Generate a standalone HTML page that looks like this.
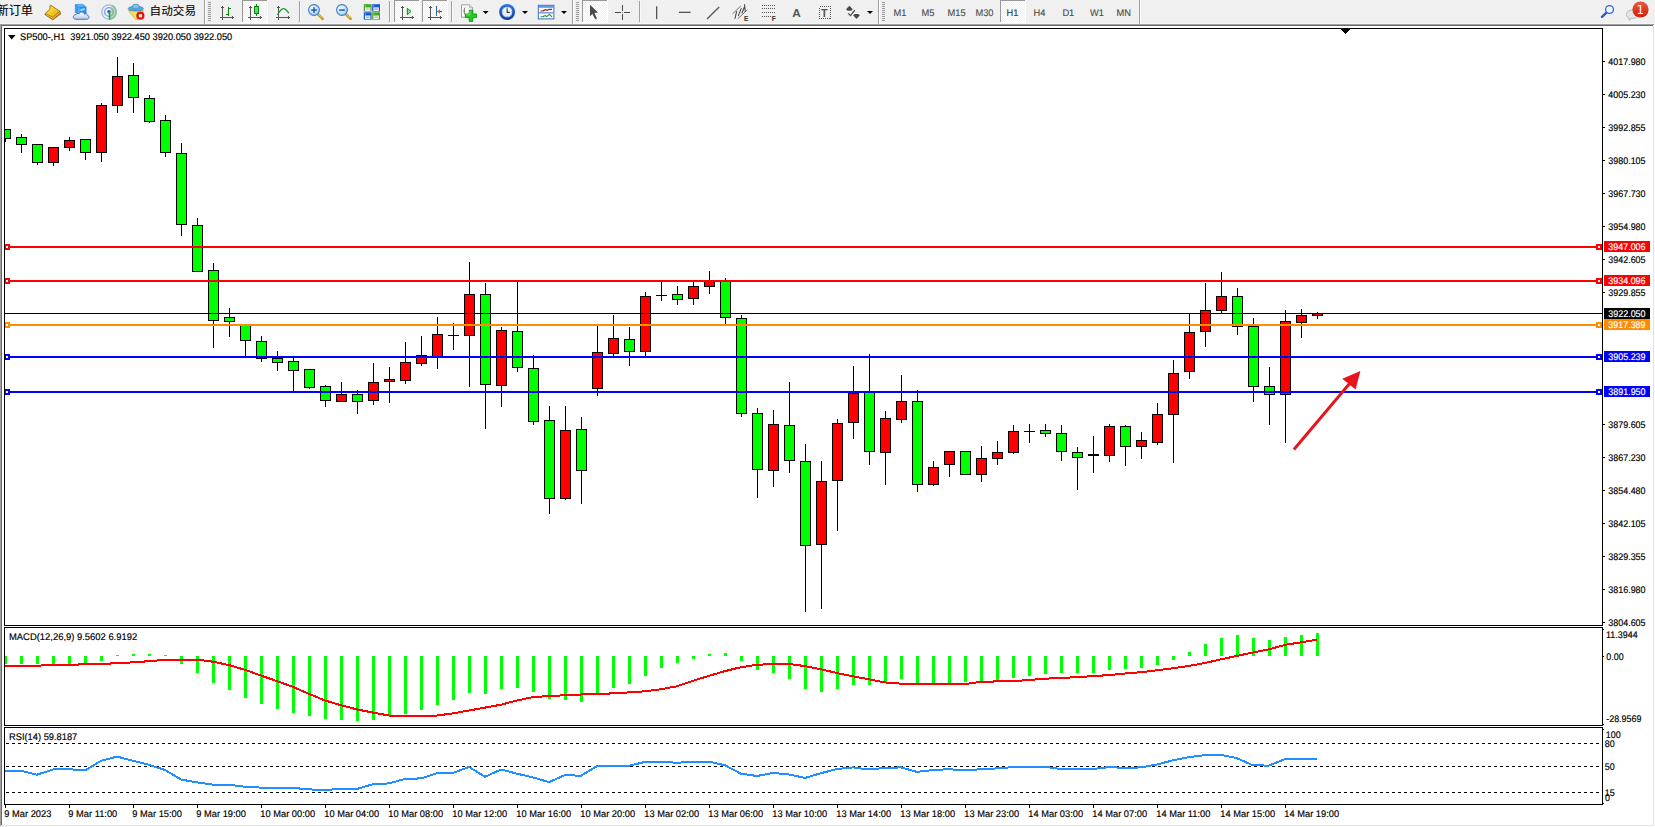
<!DOCTYPE html>
<html><head><meta charset="utf-8"><title>SP500-,H1</title>
<style>
html,body{margin:0;padding:0;background:#f0f0f0;overflow:hidden}
svg{display:block}
text{font-family:"Liberation Sans","Noto Sans CJK SC",sans-serif}
.ax{font-size:10px;fill:#000;text-rendering:geometricPrecision;stroke:#000;stroke-width:0.18px}
.tf{font-size:10px;fill:#4a4a4a;text-rendering:geometricPrecision;stroke:#4a4a4a;stroke-width:0.12px}
</style></head><body>
<svg width="1655" height="827" viewBox="0 0 1655 827">
<rect x="0" y="0" width="1655" height="827" fill="#ffffff"/>
<rect x="0" y="0" width="1655" height="24" fill="#f0f0f0"/>
<g shape-rendering="crispEdges">
<rect x="0" y="23" width="1654" height="1" fill="#f6f6f6"/>
<rect x="0" y="24" width="1654" height="1" fill="#a0a0a0"/>
<rect x="1" y="25" width="1652" height="1" fill="#696969"/>
<rect x="0" y="24" width="1" height="802" fill="#a0a0a0"/>
<rect x="1" y="25" width="1" height="800" fill="#696969"/>
<rect x="1653" y="26" width="1" height="800" fill="#e3e3e3"/>
<rect x="2" y="825" width="1652" height="1" fill="#e3e3e3"/>
</g>
<g shape-rendering="crispEdges">
<rect x="4" y="28" width="1599" height="1" fill="#000"/>
<rect x="4" y="625" width="1599" height="1" fill="#000"/>
<rect x="4" y="28" width="1" height="598" fill="#000"/>
<rect x="1602" y="28" width="1" height="598" fill="#000"/>
<rect x="4" y="627" width="1599" height="1" fill="#000"/>
<rect x="4" y="725" width="1599" height="1" fill="#000"/>
<rect x="4" y="627" width="1" height="99" fill="#000"/>
<rect x="1602" y="627" width="1" height="99" fill="#000"/>
<rect x="4" y="727" width="1599" height="1" fill="#000"/>
<rect x="4" y="804" width="1599" height="1" fill="#000"/>
<rect x="4" y="727" width="1" height="78" fill="#000"/>
<rect x="1602" y="727" width="1" height="78" fill="#000"/>
</g>
<defs><clipPath id="cp"><rect x="5" y="29" width="1597" height="596"/></clipPath><clipPath id="cp2"><rect x="5" y="628" width="1597" height="97"/></clipPath><clipPath id="cp3"><rect x="5" y="728" width="1597" height="76"/></clipPath></defs>
<g shape-rendering="crispEdges" clip-path="url(#cp)">
<rect x="5" y="129" width="1" height="13" fill="#000"/>
<rect x="0" y="129" width="11" height="10" fill="#000"/>
<rect x="1" y="130" width="9" height="8" fill="#00ff00"/>
<rect x="21" y="134" width="1" height="19" fill="#000"/>
<rect x="16" y="137" width="11" height="8" fill="#000"/>
<rect x="17" y="138" width="9" height="6" fill="#00ff00"/>
<rect x="37" y="144" width="1" height="21" fill="#000"/>
<rect x="32" y="144" width="11" height="19" fill="#000"/>
<rect x="33" y="145" width="9" height="17" fill="#00ff00"/>
<rect x="53" y="147" width="1" height="19" fill="#000"/>
<rect x="48" y="147" width="11" height="16" fill="#000"/>
<rect x="49" y="148" width="9" height="14" fill="#ff0000"/>
<rect x="69" y="137" width="1" height="14" fill="#000"/>
<rect x="64" y="140" width="11" height="8" fill="#000"/>
<rect x="65" y="141" width="9" height="6" fill="#ff0000"/>
<rect x="85" y="139" width="1" height="21" fill="#000"/>
<rect x="80" y="139" width="11" height="14" fill="#000"/>
<rect x="81" y="140" width="9" height="12" fill="#00ff00"/>
<rect x="101" y="103" width="1" height="59" fill="#000"/>
<rect x="96" y="105" width="11" height="48" fill="#000"/>
<rect x="97" y="106" width="9" height="46" fill="#ff0000"/>
<rect x="117" y="57" width="1" height="56" fill="#000"/>
<rect x="112" y="76" width="11" height="30" fill="#000"/>
<rect x="113" y="77" width="9" height="28" fill="#ff0000"/>
<rect x="133" y="63" width="1" height="50" fill="#000"/>
<rect x="128" y="75" width="11" height="23" fill="#000"/>
<rect x="129" y="76" width="9" height="21" fill="#00ff00"/>
<rect x="149" y="95" width="1" height="28" fill="#000"/>
<rect x="144" y="98" width="11" height="24" fill="#000"/>
<rect x="145" y="99" width="9" height="22" fill="#00ff00"/>
<rect x="165" y="115" width="1" height="42" fill="#000"/>
<rect x="160" y="120" width="11" height="33" fill="#000"/>
<rect x="161" y="121" width="9" height="31" fill="#00ff00"/>
<rect x="181" y="143" width="1" height="93" fill="#000"/>
<rect x="176" y="153" width="11" height="72" fill="#000"/>
<rect x="177" y="154" width="9" height="70" fill="#00ff00"/>
<rect x="197" y="218" width="1" height="54" fill="#000"/>
<rect x="192" y="225" width="11" height="47" fill="#000"/>
<rect x="193" y="226" width="9" height="45" fill="#00ff00"/>
<rect x="213" y="263" width="1" height="85" fill="#000"/>
<rect x="208" y="270" width="11" height="51" fill="#000"/>
<rect x="209" y="271" width="9" height="49" fill="#00ff00"/>
<rect x="229" y="308" width="1" height="29" fill="#000"/>
<rect x="224" y="317" width="11" height="5" fill="#000"/>
<rect x="225" y="318" width="9" height="3" fill="#00ff00"/>
<rect x="245" y="324" width="1" height="33" fill="#000"/>
<rect x="240" y="324" width="11" height="17" fill="#000"/>
<rect x="241" y="325" width="9" height="15" fill="#00ff00"/>
<rect x="261" y="336" width="1" height="26" fill="#000"/>
<rect x="256" y="341" width="11" height="18" fill="#000"/>
<rect x="257" y="342" width="9" height="16" fill="#00ff00"/>
<rect x="277" y="351" width="1" height="20" fill="#000"/>
<rect x="272" y="358" width="11" height="5" fill="#000"/>
<rect x="273" y="359" width="9" height="3" fill="#00ff00"/>
<rect x="293" y="358" width="1" height="33" fill="#000"/>
<rect x="288" y="361" width="11" height="10" fill="#000"/>
<rect x="289" y="362" width="9" height="8" fill="#00ff00"/>
<rect x="309" y="369" width="1" height="20" fill="#000"/>
<rect x="304" y="369" width="11" height="19" fill="#000"/>
<rect x="305" y="370" width="9" height="17" fill="#00ff00"/>
<rect x="325" y="385" width="1" height="22" fill="#000"/>
<rect x="320" y="386" width="11" height="15" fill="#000"/>
<rect x="321" y="387" width="9" height="13" fill="#00ff00"/>
<rect x="341" y="382" width="1" height="20" fill="#000"/>
<rect x="336" y="394" width="11" height="8" fill="#000"/>
<rect x="337" y="395" width="9" height="6" fill="#ff0000"/>
<rect x="357" y="390" width="1" height="24" fill="#000"/>
<rect x="352" y="394" width="11" height="8" fill="#000"/>
<rect x="353" y="395" width="9" height="6" fill="#00ff00"/>
<rect x="373" y="363" width="1" height="42" fill="#000"/>
<rect x="368" y="382" width="11" height="19" fill="#000"/>
<rect x="369" y="383" width="9" height="17" fill="#ff0000"/>
<rect x="389" y="367" width="1" height="36" fill="#000"/>
<rect x="384" y="379" width="11" height="3" fill="#000"/>
<rect x="385" y="380" width="9" height="1" fill="#ff0000"/>
<rect x="405" y="342" width="1" height="42" fill="#000"/>
<rect x="400" y="362" width="11" height="19" fill="#000"/>
<rect x="401" y="363" width="9" height="17" fill="#ff0000"/>
<rect x="421" y="336" width="1" height="30" fill="#000"/>
<rect x="416" y="355" width="11" height="9" fill="#000"/>
<rect x="417" y="356" width="9" height="7" fill="#ff0000"/>
<rect x="437" y="317" width="1" height="52" fill="#000"/>
<rect x="432" y="334" width="11" height="23" fill="#000"/>
<rect x="433" y="335" width="9" height="21" fill="#ff0000"/>
<rect x="453" y="323" width="1" height="27" fill="#000"/>
<rect x="448" y="335" width="11" height="1" fill="#000"/>
<rect x="469" y="262" width="1" height="125" fill="#000"/>
<rect x="464" y="294" width="11" height="42" fill="#000"/>
<rect x="465" y="295" width="9" height="40" fill="#ff0000"/>
<rect x="485" y="283" width="1" height="146" fill="#000"/>
<rect x="480" y="294" width="11" height="91" fill="#000"/>
<rect x="481" y="295" width="9" height="89" fill="#00ff00"/>
<rect x="501" y="327" width="1" height="80" fill="#000"/>
<rect x="496" y="330" width="11" height="56" fill="#000"/>
<rect x="497" y="331" width="9" height="54" fill="#ff0000"/>
<rect x="517" y="282" width="1" height="90" fill="#000"/>
<rect x="512" y="331" width="11" height="37" fill="#000"/>
<rect x="513" y="332" width="9" height="35" fill="#00ff00"/>
<rect x="533" y="355" width="1" height="70" fill="#000"/>
<rect x="528" y="368" width="11" height="54" fill="#000"/>
<rect x="529" y="369" width="9" height="52" fill="#00ff00"/>
<rect x="549" y="406" width="1" height="108" fill="#000"/>
<rect x="544" y="420" width="11" height="79" fill="#000"/>
<rect x="545" y="421" width="9" height="77" fill="#00ff00"/>
<rect x="565" y="406" width="1" height="94" fill="#000"/>
<rect x="560" y="430" width="11" height="69" fill="#000"/>
<rect x="561" y="431" width="9" height="67" fill="#ff0000"/>
<rect x="581" y="417" width="1" height="87" fill="#000"/>
<rect x="576" y="429" width="11" height="42" fill="#000"/>
<rect x="577" y="430" width="9" height="40" fill="#00ff00"/>
<rect x="597" y="326" width="1" height="70" fill="#000"/>
<rect x="592" y="352" width="11" height="37" fill="#000"/>
<rect x="593" y="353" width="9" height="35" fill="#ff0000"/>
<rect x="613" y="315" width="1" height="42" fill="#000"/>
<rect x="608" y="338" width="11" height="16" fill="#000"/>
<rect x="609" y="339" width="9" height="14" fill="#ff0000"/>
<rect x="629" y="327" width="1" height="39" fill="#000"/>
<rect x="624" y="339" width="11" height="13" fill="#000"/>
<rect x="625" y="340" width="9" height="11" fill="#00ff00"/>
<rect x="645" y="292" width="1" height="64" fill="#000"/>
<rect x="640" y="296" width="11" height="56" fill="#000"/>
<rect x="641" y="297" width="9" height="54" fill="#ff0000"/>
<rect x="661" y="281" width="1" height="20" fill="#000"/>
<rect x="656" y="295" width="11" height="1" fill="#000"/>
<rect x="677" y="286" width="1" height="19" fill="#000"/>
<rect x="672" y="294" width="11" height="6" fill="#000"/>
<rect x="673" y="295" width="9" height="4" fill="#00ff00"/>
<rect x="693" y="281" width="1" height="24" fill="#000"/>
<rect x="688" y="286" width="11" height="13" fill="#000"/>
<rect x="689" y="287" width="9" height="11" fill="#ff0000"/>
<rect x="709" y="271" width="1" height="23" fill="#000"/>
<rect x="704" y="280" width="11" height="7" fill="#000"/>
<rect x="705" y="281" width="9" height="5" fill="#ff0000"/>
<rect x="725" y="278" width="1" height="46" fill="#000"/>
<rect x="720" y="280" width="11" height="38" fill="#000"/>
<rect x="721" y="281" width="9" height="36" fill="#00ff00"/>
<rect x="741" y="315" width="1" height="102" fill="#000"/>
<rect x="736" y="318" width="11" height="96" fill="#000"/>
<rect x="737" y="319" width="9" height="94" fill="#00ff00"/>
<rect x="757" y="408" width="1" height="90" fill="#000"/>
<rect x="752" y="413" width="11" height="57" fill="#000"/>
<rect x="753" y="414" width="9" height="55" fill="#00ff00"/>
<rect x="773" y="410" width="1" height="77" fill="#000"/>
<rect x="768" y="424" width="11" height="47" fill="#000"/>
<rect x="769" y="425" width="9" height="45" fill="#ff0000"/>
<rect x="789" y="382" width="1" height="91" fill="#000"/>
<rect x="784" y="425" width="11" height="36" fill="#000"/>
<rect x="785" y="426" width="9" height="34" fill="#00ff00"/>
<rect x="805" y="444" width="1" height="168" fill="#000"/>
<rect x="800" y="461" width="11" height="85" fill="#000"/>
<rect x="801" y="462" width="9" height="83" fill="#00ff00"/>
<rect x="821" y="461" width="1" height="148" fill="#000"/>
<rect x="816" y="481" width="11" height="64" fill="#000"/>
<rect x="817" y="482" width="9" height="62" fill="#ff0000"/>
<rect x="837" y="419" width="1" height="112" fill="#000"/>
<rect x="832" y="423" width="11" height="58" fill="#000"/>
<rect x="833" y="424" width="9" height="56" fill="#ff0000"/>
<rect x="853" y="366" width="1" height="73" fill="#000"/>
<rect x="848" y="393" width="11" height="30" fill="#000"/>
<rect x="849" y="394" width="9" height="28" fill="#ff0000"/>
<rect x="869" y="354" width="1" height="111" fill="#000"/>
<rect x="864" y="392" width="11" height="60" fill="#000"/>
<rect x="865" y="393" width="9" height="58" fill="#00ff00"/>
<rect x="885" y="411" width="1" height="74" fill="#000"/>
<rect x="880" y="418" width="11" height="35" fill="#000"/>
<rect x="881" y="419" width="9" height="33" fill="#ff0000"/>
<rect x="901" y="375" width="1" height="48" fill="#000"/>
<rect x="896" y="401" width="11" height="19" fill="#000"/>
<rect x="897" y="402" width="9" height="17" fill="#ff0000"/>
<rect x="917" y="390" width="1" height="102" fill="#000"/>
<rect x="912" y="401" width="11" height="84" fill="#000"/>
<rect x="913" y="402" width="9" height="82" fill="#00ff00"/>
<rect x="933" y="461" width="1" height="25" fill="#000"/>
<rect x="928" y="467" width="11" height="18" fill="#000"/>
<rect x="929" y="468" width="9" height="16" fill="#ff0000"/>
<rect x="949" y="451" width="1" height="26" fill="#000"/>
<rect x="944" y="451" width="11" height="14" fill="#000"/>
<rect x="945" y="452" width="9" height="12" fill="#ff0000"/>
<rect x="965" y="451" width="1" height="24" fill="#000"/>
<rect x="960" y="451" width="11" height="24" fill="#000"/>
<rect x="961" y="452" width="9" height="22" fill="#00ff00"/>
<rect x="981" y="446" width="1" height="36" fill="#000"/>
<rect x="976" y="458" width="11" height="17" fill="#000"/>
<rect x="977" y="459" width="9" height="15" fill="#ff0000"/>
<rect x="997" y="441" width="1" height="24" fill="#000"/>
<rect x="992" y="452" width="11" height="7" fill="#000"/>
<rect x="993" y="453" width="9" height="5" fill="#ff0000"/>
<rect x="1013" y="425" width="1" height="29" fill="#000"/>
<rect x="1008" y="431" width="11" height="22" fill="#000"/>
<rect x="1009" y="432" width="9" height="20" fill="#ff0000"/>
<rect x="1029" y="424" width="1" height="19" fill="#000"/>
<rect x="1024" y="431" width="11" height="1" fill="#000"/>
<rect x="1045" y="424" width="1" height="13" fill="#000"/>
<rect x="1040" y="430" width="11" height="4" fill="#000"/>
<rect x="1041" y="431" width="9" height="2" fill="#00ff00"/>
<rect x="1061" y="425" width="1" height="36" fill="#000"/>
<rect x="1056" y="433" width="11" height="19" fill="#000"/>
<rect x="1057" y="434" width="9" height="17" fill="#00ff00"/>
<rect x="1077" y="447" width="1" height="43" fill="#000"/>
<rect x="1072" y="452" width="11" height="6" fill="#000"/>
<rect x="1073" y="453" width="9" height="4" fill="#00ff00"/>
<rect x="1093" y="436" width="1" height="37" fill="#000"/>
<rect x="1088" y="454" width="11" height="2" fill="#000"/>
<rect x="1109" y="424" width="1" height="38" fill="#000"/>
<rect x="1104" y="426" width="11" height="30" fill="#000"/>
<rect x="1105" y="427" width="9" height="28" fill="#ff0000"/>
<rect x="1125" y="425" width="1" height="41" fill="#000"/>
<rect x="1120" y="426" width="11" height="21" fill="#000"/>
<rect x="1121" y="427" width="9" height="19" fill="#00ff00"/>
<rect x="1141" y="432" width="1" height="27" fill="#000"/>
<rect x="1136" y="440" width="11" height="7" fill="#000"/>
<rect x="1137" y="441" width="9" height="5" fill="#ff0000"/>
<rect x="1157" y="403" width="1" height="42" fill="#000"/>
<rect x="1152" y="414" width="11" height="29" fill="#000"/>
<rect x="1153" y="415" width="9" height="27" fill="#ff0000"/>
<rect x="1173" y="360" width="1" height="103" fill="#000"/>
<rect x="1168" y="373" width="11" height="42" fill="#000"/>
<rect x="1169" y="374" width="9" height="40" fill="#ff0000"/>
<rect x="1189" y="314" width="1" height="65" fill="#000"/>
<rect x="1184" y="332" width="11" height="40" fill="#000"/>
<rect x="1185" y="333" width="9" height="38" fill="#ff0000"/>
<rect x="1205" y="283" width="1" height="64" fill="#000"/>
<rect x="1200" y="310" width="11" height="22" fill="#000"/>
<rect x="1201" y="311" width="9" height="20" fill="#ff0000"/>
<rect x="1221" y="272" width="1" height="41" fill="#000"/>
<rect x="1216" y="296" width="11" height="15" fill="#000"/>
<rect x="1217" y="297" width="9" height="13" fill="#ff0000"/>
<rect x="1237" y="288" width="1" height="47" fill="#000"/>
<rect x="1232" y="296" width="11" height="31" fill="#000"/>
<rect x="1233" y="297" width="9" height="29" fill="#00ff00"/>
<rect x="1253" y="318" width="1" height="84" fill="#000"/>
<rect x="1248" y="326" width="11" height="61" fill="#000"/>
<rect x="1249" y="327" width="9" height="59" fill="#00ff00"/>
<rect x="1269" y="367" width="1" height="58" fill="#000"/>
<rect x="1264" y="386" width="11" height="9" fill="#000"/>
<rect x="1265" y="387" width="9" height="7" fill="#00ff00"/>
<rect x="1285" y="310" width="1" height="133" fill="#000"/>
<rect x="1280" y="321" width="11" height="74" fill="#000"/>
<rect x="1281" y="322" width="9" height="72" fill="#ff0000"/>
<rect x="1301" y="309" width="1" height="29" fill="#000"/>
<rect x="1296" y="315" width="11" height="8" fill="#000"/>
<rect x="1297" y="316" width="9" height="6" fill="#ff0000"/>
<rect x="1317" y="312" width="1" height="7" fill="#000"/>
<rect x="1312" y="313" width="11" height="3" fill="#000"/>
<rect x="1313" y="314" width="9" height="1" fill="#ff0000"/>
<rect x="5" y="246" width="1597" height="2" fill="#ff0000"/>
<rect x="5" y="280" width="1597" height="2" fill="#ff0000"/>
<rect x="5" y="313" width="1597" height="1" fill="#000"/>
<rect x="5" y="324" width="1597" height="2" fill="#ff8c00"/>
<rect x="5" y="356" width="1597" height="2" fill="#0000ff"/>
<rect x="5" y="391" width="1597" height="2" fill="#0000ff"/>
</g>
<g shape-rendering="crispEdges">
<rect x="5" y="244" width="5" height="6" fill="#ff0000"/>
<rect x="6" y="246" width="2" height="2" fill="#fff"/>
<rect x="1596" y="244" width="6" height="6" fill="#ff0000"/>
<rect x="1598" y="246" width="2" height="2" fill="#fff"/>
<rect x="5" y="278" width="5" height="6" fill="#ff0000"/>
<rect x="6" y="280" width="2" height="2" fill="#fff"/>
<rect x="1596" y="278" width="6" height="6" fill="#ff0000"/>
<rect x="1598" y="280" width="2" height="2" fill="#fff"/>
<rect x="5" y="322" width="5" height="6" fill="#ff8c00"/>
<rect x="6" y="324" width="2" height="2" fill="#fff"/>
<rect x="1596" y="322" width="6" height="6" fill="#ff8c00"/>
<rect x="1598" y="324" width="2" height="2" fill="#fff"/>
<rect x="5" y="354" width="5" height="6" fill="#0000ff"/>
<rect x="6" y="356" width="2" height="2" fill="#fff"/>
<rect x="1596" y="354" width="6" height="6" fill="#0000ff"/>
<rect x="1598" y="356" width="2" height="2" fill="#fff"/>
<rect x="5" y="389" width="5" height="6" fill="#0000ff"/>
<rect x="6" y="391" width="2" height="2" fill="#fff"/>
<rect x="1596" y="389" width="6" height="6" fill="#0000ff"/>
<rect x="1598" y="391" width="2" height="2" fill="#fff"/>
<rect x="1341" y="29" width="9" height="1" fill="#000"/>
<rect x="1342" y="30" width="7" height="1" fill="#000"/>
<rect x="1343" y="31" width="5" height="1" fill="#000"/>
<rect x="1344" y="32" width="3" height="1" fill="#000"/>
<rect x="1345" y="33" width="1" height="1" fill="#000"/>
</g>
<line x1="1293.9" y1="449.5" x2="1350" y2="383" stroke="#e8141c" stroke-width="2.9"/>
<polygon points="1360.4,370.9 1342.3,378.7 1355.6,389.6" fill="#e8141c"/>
<g shape-rendering="crispEdges">
<rect x="1603" y="61" width="2" height="1" fill="#000"/>
<rect x="1603" y="94" width="2" height="1" fill="#000"/>
<rect x="1603" y="127" width="2" height="1" fill="#000"/>
<rect x="1603" y="160" width="2" height="1" fill="#000"/>
<rect x="1603" y="193" width="2" height="1" fill="#000"/>
<rect x="1603" y="226" width="2" height="1" fill="#000"/>
<rect x="1603" y="259" width="2" height="1" fill="#000"/>
<rect x="1603" y="292" width="2" height="1" fill="#000"/>
<rect x="1603" y="424" width="2" height="1" fill="#000"/>
<rect x="1603" y="457" width="2" height="1" fill="#000"/>
<rect x="1603" y="490" width="2" height="1" fill="#000"/>
<rect x="1603" y="523" width="2" height="1" fill="#000"/>
<rect x="1603" y="556" width="2" height="1" fill="#000"/>
<rect x="1603" y="589" width="2" height="1" fill="#000"/>
<rect x="1603" y="622" width="2" height="1" fill="#000"/>
<rect x="1603" y="629" width="1" height="1" fill="#000"/>
<rect x="1603" y="656" width="1" height="1" fill="#000"/>
<rect x="1603" y="724" width="1" height="1" fill="#000"/>
<rect x="1603" y="729" width="1" height="1" fill="#000"/>
<rect x="1603" y="803" width="1" height="1" fill="#000"/>
<rect x="1604" y="241" width="46" height="11" fill="#ff0000"/>
<rect x="1604" y="275" width="46" height="11" fill="#ff0000"/>
<rect x="1604" y="308" width="46" height="11" fill="#000"/>
<rect x="1604" y="319" width="46" height="11" fill="#ff8c00"/>
<rect x="1604" y="351" width="46" height="11" fill="#0000ff"/>
<rect x="1604" y="386" width="46" height="11" fill="#0000ff"/>
</g>
<text class="ax" transform="translate(1608.3,65) scale(0.893,0.96)" >4017.980</text>
<text class="ax" transform="translate(1608.3,98) scale(0.893,0.96)" >4005.230</text>
<text class="ax" transform="translate(1608.3,131) scale(0.893,0.96)" >3992.855</text>
<text class="ax" transform="translate(1608.3,164) scale(0.893,0.96)" >3980.105</text>
<text class="ax" transform="translate(1608.3,197) scale(0.893,0.96)" >3967.730</text>
<text class="ax" transform="translate(1608.3,230) scale(0.893,0.96)" >3954.980</text>
<text class="ax" transform="translate(1608.3,263) scale(0.893,0.96)" >3942.605</text>
<text class="ax" transform="translate(1608.3,296) scale(0.893,0.96)" >3929.855</text>
<text class="ax" transform="translate(1608.3,428) scale(0.893,0.96)" >3879.605</text>
<text class="ax" transform="translate(1608.3,461) scale(0.893,0.96)" >3867.230</text>
<text class="ax" transform="translate(1608.3,494) scale(0.893,0.96)" >3854.480</text>
<text class="ax" transform="translate(1608.3,527) scale(0.893,0.96)" >3842.105</text>
<text class="ax" transform="translate(1608.3,560) scale(0.893,0.96)" >3829.355</text>
<text class="ax" transform="translate(1608.3,593) scale(0.893,0.96)" >3816.980</text>
<text class="ax" transform="translate(1608.3,626) scale(0.893,0.96)" >3804.605</text>
<text class="ax" transform="translate(1608.3,250) scale(0.893,0.96)" style="fill:#fff;stroke:#fff">3947.006</text>
<text class="ax" transform="translate(1608.3,284) scale(0.893,0.96)" style="fill:#fff;stroke:#fff">3934.096</text>
<text class="ax" transform="translate(1608.3,317) scale(0.893,0.96)" style="fill:#fff;stroke:#fff">3922.050</text>
<text class="ax" transform="translate(1608.3,328) scale(0.893,0.96)" style="fill:#fff;stroke:#fff">3917.389</text>
<text class="ax" transform="translate(1608.3,360) scale(0.893,0.96)" style="fill:#fff;stroke:#fff">3905.239</text>
<text class="ax" transform="translate(1608.3,395) scale(0.893,0.96)" style="fill:#fff;stroke:#fff">3891.950</text>
<text class="ax" transform="translate(1606,638) scale(0.893,0.96)" >11.3944</text>
<text class="ax" transform="translate(1606.3,660) scale(0.893,0.96)" >0.00</text>
<text class="ax" transform="translate(1606.2,722) scale(0.893,0.96)" >-28.9569</text>
<text class="ax" transform="translate(1605.8,738) scale(0.893,0.96)" >100</text>
<text class="ax" transform="translate(1604.7,747) scale(0.893,0.96)" >80</text>
<text class="ax" transform="translate(1604.7,770) scale(0.893,0.96)" >50</text>
<text class="ax" transform="translate(1604.8,796) scale(0.893,0.96)" >15</text>
<text class="ax" transform="translate(1605,801) scale(0.893,0.96)" >0</text>
<polygon points="8,35 15.5,35 11.75,39.5" fill="#000"/>
<text class="ax" transform="translate(20,40.2) scale(0.924,0.96)" style="white-space:pre" xml:space="preserve">SP500-,H1  3921.050 3922.450 3920.050 3922.050</text>
<text class="ax" transform="translate(9,640) scale(0.941,0.96)" >MACD(12,26,9) 9.5602 6.9192</text>
<text class="ax" transform="translate(9,740) scale(0.93,0.96)" >RSI(14) 59.8187</text>
<g shape-rendering="crispEdges" clip-path="url(#cp2)">
<rect x="4" y="656" width="3" height="8" fill="#00ff00"/>
<rect x="20" y="656" width="3" height="8" fill="#00ff00"/>
<rect x="36" y="656" width="3" height="8" fill="#00ff00"/>
<rect x="52" y="656" width="3" height="8" fill="#00ff00"/>
<rect x="68" y="656" width="3" height="8" fill="#00ff00"/>
<rect x="84" y="656" width="3" height="8" fill="#00ff00"/>
<rect x="100" y="656" width="3" height="5" fill="#00ff00"/>
<rect x="116" y="655" width="3" height="1" fill="#00ff00"/>
<rect x="132" y="654" width="3" height="2" fill="#00ff00"/>
<rect x="148" y="654" width="3" height="2" fill="#00ff00"/>
<rect x="164" y="655" width="3" height="1" fill="#00ff00"/>
<rect x="180" y="656" width="3" height="8" fill="#00ff00"/>
<rect x="196" y="656" width="3" height="17" fill="#00ff00"/>
<rect x="212" y="656" width="3" height="27" fill="#00ff00"/>
<rect x="228" y="656" width="3" height="34" fill="#00ff00"/>
<rect x="244" y="656" width="3" height="42" fill="#00ff00"/>
<rect x="260" y="656" width="3" height="48" fill="#00ff00"/>
<rect x="276" y="656" width="3" height="53" fill="#00ff00"/>
<rect x="292" y="656" width="3" height="57" fill="#00ff00"/>
<rect x="308" y="656" width="3" height="60" fill="#00ff00"/>
<rect x="324" y="656" width="3" height="63" fill="#00ff00"/>
<rect x="340" y="656" width="3" height="64" fill="#00ff00"/>
<rect x="356" y="656" width="3" height="65" fill="#00ff00"/>
<rect x="372" y="656" width="3" height="64" fill="#00ff00"/>
<rect x="388" y="656" width="3" height="60" fill="#00ff00"/>
<rect x="404" y="656" width="3" height="58" fill="#00ff00"/>
<rect x="420" y="656" width="3" height="54" fill="#00ff00"/>
<rect x="436" y="656" width="3" height="49" fill="#00ff00"/>
<rect x="452" y="656" width="3" height="44" fill="#00ff00"/>
<rect x="468" y="656" width="3" height="37" fill="#00ff00"/>
<rect x="484" y="656" width="3" height="38" fill="#00ff00"/>
<rect x="500" y="656" width="3" height="33" fill="#00ff00"/>
<rect x="516" y="656" width="3" height="32" fill="#00ff00"/>
<rect x="532" y="656" width="3" height="36" fill="#00ff00"/>
<rect x="548" y="656" width="3" height="43" fill="#00ff00"/>
<rect x="564" y="656" width="3" height="44" fill="#00ff00"/>
<rect x="580" y="656" width="3" height="46" fill="#00ff00"/>
<rect x="596" y="656" width="3" height="39" fill="#00ff00"/>
<rect x="612" y="656" width="3" height="32" fill="#00ff00"/>
<rect x="628" y="656" width="3" height="28" fill="#00ff00"/>
<rect x="644" y="656" width="3" height="20" fill="#00ff00"/>
<rect x="660" y="656" width="3" height="12" fill="#00ff00"/>
<rect x="676" y="656" width="3" height="7" fill="#00ff00"/>
<rect x="692" y="656" width="3" height="3" fill="#00ff00"/>
<rect x="708" y="654" width="3" height="2" fill="#00ff00"/>
<rect x="724" y="653" width="3" height="3" fill="#00ff00"/>
<rect x="740" y="656" width="3" height="5" fill="#00ff00"/>
<rect x="756" y="656" width="3" height="14" fill="#00ff00"/>
<rect x="772" y="656" width="3" height="17" fill="#00ff00"/>
<rect x="788" y="656" width="3" height="23" fill="#00ff00"/>
<rect x="804" y="656" width="3" height="33" fill="#00ff00"/>
<rect x="820" y="656" width="3" height="36" fill="#00ff00"/>
<rect x="836" y="656" width="3" height="33" fill="#00ff00"/>
<rect x="852" y="656" width="3" height="29" fill="#00ff00"/>
<rect x="868" y="656" width="3" height="29" fill="#00ff00"/>
<rect x="884" y="656" width="3" height="26" fill="#00ff00"/>
<rect x="900" y="656" width="3" height="23" fill="#00ff00"/>
<rect x="916" y="656" width="3" height="27" fill="#00ff00"/>
<rect x="932" y="656" width="3" height="27" fill="#00ff00"/>
<rect x="948" y="656" width="3" height="27" fill="#00ff00"/>
<rect x="964" y="656" width="3" height="26" fill="#00ff00"/>
<rect x="980" y="656" width="3" height="26" fill="#00ff00"/>
<rect x="996" y="656" width="3" height="25" fill="#00ff00"/>
<rect x="1012" y="656" width="3" height="22" fill="#00ff00"/>
<rect x="1028" y="656" width="3" height="20" fill="#00ff00"/>
<rect x="1044" y="656" width="3" height="18" fill="#00ff00"/>
<rect x="1060" y="656" width="3" height="17" fill="#00ff00"/>
<rect x="1076" y="656" width="3" height="17" fill="#00ff00"/>
<rect x="1092" y="656" width="3" height="17" fill="#00ff00"/>
<rect x="1108" y="656" width="3" height="14" fill="#00ff00"/>
<rect x="1124" y="656" width="3" height="13" fill="#00ff00"/>
<rect x="1140" y="656" width="3" height="12" fill="#00ff00"/>
<rect x="1156" y="656" width="3" height="9" fill="#00ff00"/>
<rect x="1172" y="656" width="3" height="4" fill="#00ff00"/>
<rect x="1188" y="652" width="3" height="4" fill="#00ff00"/>
<rect x="1204" y="644" width="3" height="12" fill="#00ff00"/>
<rect x="1220" y="638" width="3" height="18" fill="#00ff00"/>
<rect x="1236" y="635" width="3" height="21" fill="#00ff00"/>
<rect x="1252" y="638" width="3" height="18" fill="#00ff00"/>
<rect x="1268" y="640" width="3" height="16" fill="#00ff00"/>
<rect x="1284" y="637" width="3" height="19" fill="#00ff00"/>
<rect x="1300" y="635" width="3" height="21" fill="#00ff00"/>
<rect x="1316" y="633" width="3" height="23" fill="#00ff00"/>
</g>
<polyline clip-path="url(#cp2)" points="5,665.9 21,665.8 37,665.6 53,665.2 69,664.8 85,664.3 101,663.8 117,663.3 133,662.3 149,661.2 165,659.8 181,659.6 197,659.6 213,661.7 229,665.1 245,669.8 261,675.6 277,681.1 293,686.9 309,693.9 325,700.5 341,705.2 357,709.4 373,712.6 389,715.5 405,716 421,716 437,715.5 453,713.4 469,710.5 485,707.6 501,704.7 517,700.5 533,697.1 549,696 565,695.3 581,694.5 597,693.9 613,693.4 629,692.4 645,691.3 661,689.2 677,686.3 693,680.8 709,675.8 725,671.1 741,667.2 757,664.8 773,664 789,664 805,666.1 821,669.3 837,673 853,676.4 869,679.3 885,682.4 901,683.7 917,684 933,684 949,684 965,684 981,681.9 997,681.4 1013,681.1 1029,680 1045,678.7 1061,677.9 1077,677.2 1093,676.1 1109,675.1 1125,673.5 1141,672.2 1157,670.3 1173,668.2 1189,665.9 1205,663 1221,659.3 1237,655.9 1253,652.5 1269,649.3 1285,644.9 1301,642.3 1317,639.6" fill="none" stroke="#ff0000" stroke-width="2" stroke-linejoin="round" shape-rendering="crispEdges"/>
<g shape-rendering="crispEdges">
<line x1="6" y1="743.5" x2="1602" y2="743.5" stroke="#000" stroke-width="1" stroke-dasharray="3,3"/>
<line x1="6" y1="766.5" x2="1602" y2="766.5" stroke="#000" stroke-width="1" stroke-dasharray="3,3"/>
<line x1="6" y1="792.5" x2="1602" y2="792.5" stroke="#000" stroke-width="1" stroke-dasharray="3,3"/>
</g>
<polyline clip-path="url(#cp3)" points="5,770.5 21,770.8 37,774.7 53,769.5 69,769.2 85,770.5 101,760.8 117,756.6 133,760.8 149,764.8 165,770 181,779.5 197,782.4 213,784.7 229,784.7 245,786.8 261,787.6 277,787.9 293,787.9 309,789.4 325,790 341,788.9 357,788.9 373,784.2 389,783.4 405,778.9 421,778.4 437,773.2 453,772.9 469,766.9 485,776.8 501,769.5 517,773.7 533,777.4 549,782.1 565,775 581,775.8 597,766.1 613,765.8 629,765.8 645,761.9 661,761.9 677,762.7 693,761.9 709,761.6 725,765.3 741,773.7 757,776 773,772.9 789,774.5 805,777.9 821,773.2 837,769 853,767.4 869,769.5 885,767.9 901,767.4 917,771.9 933,770 949,769.2 965,770.5 981,769.2 997,768.4 1013,767.1 1029,766.9 1045,766.9 1061,769 1077,769 1093,769 1109,767.1 1125,767.9 1141,767.4 1157,764.5 1173,760.3 1189,757.2 1205,755.1 1221,754.8 1237,758.2 1253,765.3 1269,765.6 1285,759 1301,759 1317,759" fill="none" stroke="#1e90ff" stroke-width="2" stroke-linejoin="round" shape-rendering="crispEdges"/>
<g shape-rendering="crispEdges">
<rect x="5" y="805" width="1" height="3" fill="#000"/>
<rect x="69" y="805" width="1" height="3" fill="#000"/>
<rect x="133" y="805" width="1" height="3" fill="#000"/>
<rect x="197" y="805" width="1" height="3" fill="#000"/>
<rect x="261" y="805" width="1" height="3" fill="#000"/>
<rect x="325" y="805" width="1" height="3" fill="#000"/>
<rect x="389" y="805" width="1" height="3" fill="#000"/>
<rect x="453" y="805" width="1" height="3" fill="#000"/>
<rect x="517" y="805" width="1" height="3" fill="#000"/>
<rect x="581" y="805" width="1" height="3" fill="#000"/>
<rect x="645" y="805" width="1" height="3" fill="#000"/>
<rect x="709" y="805" width="1" height="3" fill="#000"/>
<rect x="773" y="805" width="1" height="3" fill="#000"/>
<rect x="837" y="805" width="1" height="3" fill="#000"/>
<rect x="901" y="805" width="1" height="3" fill="#000"/>
<rect x="965" y="805" width="1" height="3" fill="#000"/>
<rect x="1029" y="805" width="1" height="3" fill="#000"/>
<rect x="1093" y="805" width="1" height="3" fill="#000"/>
<rect x="1157" y="805" width="1" height="3" fill="#000"/>
<rect x="1221" y="805" width="1" height="3" fill="#000"/>
<rect x="1285" y="805" width="1" height="3" fill="#000"/>
</g>
<text class="ax" transform="translate(4.3,817) scale(0.93,0.96)" >9 Mar 2023</text>
<text class="ax" transform="translate(68.3,817) scale(0.93,0.96)" >9 Mar 11:00</text>
<text class="ax" transform="translate(132.3,817) scale(0.93,0.96)" >9 Mar 15:00</text>
<text class="ax" transform="translate(196.3,817) scale(0.93,0.96)" >9 Mar 19:00</text>
<text class="ax" transform="translate(260.3,817) scale(0.93,0.96)" >10 Mar 00:00</text>
<text class="ax" transform="translate(324.3,817) scale(0.93,0.96)" >10 Mar 04:00</text>
<text class="ax" transform="translate(388.3,817) scale(0.93,0.96)" >10 Mar 08:00</text>
<text class="ax" transform="translate(452.3,817) scale(0.93,0.96)" >10 Mar 12:00</text>
<text class="ax" transform="translate(516.3,817) scale(0.93,0.96)" >10 Mar 16:00</text>
<text class="ax" transform="translate(580.3,817) scale(0.93,0.96)" >10 Mar 20:00</text>
<text class="ax" transform="translate(644.3,817) scale(0.93,0.96)" >13 Mar 02:00</text>
<text class="ax" transform="translate(708.3,817) scale(0.93,0.96)" >13 Mar 06:00</text>
<text class="ax" transform="translate(772.3,817) scale(0.93,0.96)" >13 Mar 10:00</text>
<text class="ax" transform="translate(836.3,817) scale(0.93,0.96)" >13 Mar 14:00</text>
<text class="ax" transform="translate(900.3,817) scale(0.93,0.96)" >13 Mar 18:00</text>
<text class="ax" transform="translate(964.3,817) scale(0.93,0.96)" >13 Mar 23:00</text>
<text class="ax" transform="translate(1028.3,817) scale(0.93,0.96)" >14 Mar 03:00</text>
<text class="ax" transform="translate(1092.3,817) scale(0.93,0.96)" >14 Mar 07:00</text>
<text class="ax" transform="translate(1156.3,817) scale(0.93,0.96)" >14 Mar 11:00</text>
<text class="ax" transform="translate(1220.3,817) scale(0.93,0.96)" >14 Mar 15:00</text>
<text class="ax" transform="translate(1284.3,817) scale(0.93,0.96)" >14 Mar 19:00</text>
<defs>
<linearGradient id="gold" x1="0" y1="0" x2="1" y2="1"><stop offset="0" stop-color="#fff080"/><stop offset="0.5" stop-color="#f4cc20"/><stop offset="1" stop-color="#d8a010"/></linearGradient>
<linearGradient id="bdoc" x1="0" y1="0" x2="0" y2="1"><stop offset="0" stop-color="#1c8cf0"/><stop offset="1" stop-color="#7cc4ff"/></linearGradient>
<linearGradient id="cloud" x1="0" y1="0" x2="0" y2="1"><stop offset="0" stop-color="#ffffff"/><stop offset="1" stop-color="#b8c8e4"/></linearGradient>
<linearGradient id="badge" x1="0" y1="0" x2="0" y2="1"><stop offset="0" stop-color="#ec5a3c"/><stop offset="1" stop-color="#d41c0c"/></linearGradient>
<radialGradient id="lens" cx="0.4" cy="0.35" r="0.7"><stop offset="0" stop-color="#ffffff"/><stop offset="1" stop-color="#9cc8f0"/></radialGradient>
<linearGradient id="ring" x1="0" y1="0" x2="0" y2="1"><stop offset="0" stop-color="#2a7ae8"/><stop offset="1" stop-color="#0c3c9c"/></linearGradient>
<radialGradient id="clk" cx="0.5" cy="0.4" r="0.6"><stop offset="0" stop-color="#ffffff"/><stop offset="1" stop-color="#d8e4f4"/></radialGradient>
<pattern id="chk" width="2" height="2" patternUnits="userSpaceOnUse"><rect width="2" height="2" fill="#f0f0f0"/><rect width="1" height="1" fill="#fff"/><rect x="1" y="1" width="1" height="1" fill="#fff"/></pattern>
</defs>
<text x="-3.5" y="15.1" font-size="12.2" fill="#000" stroke="#000" stroke-width="0.08">新订单</text>
<polygon points="45.3,13.4 52.8,17.4 59.9,11.2 60.9,13.9 52.8,19.9 44.9,14.7" fill="#c48a14" stroke="#9a6410" stroke-width="0.7" stroke-linejoin="round"/>
<polygon points="50.3,5 59.9,11.2 52.8,17.5 45.3,13.4 49.6,9.6" fill="url(#gold)" stroke="#966008" stroke-width="0.8" stroke-linejoin="round"/>
<polyline points="46.2,14.6 52.8,18.2 59.8,12.4" fill="none" stroke="#f4d880" stroke-width="0.7"/>
<polygon points="75.3,4.6 78.8,7.2 78.8,14.4 75.3,12.6" fill="#2f9cff" stroke="#1a7ce0" stroke-width="0.5"/>
<polygon points="75.3,4.6 82.8,4.2 86,6.8 78.8,7.2" fill="#58b4ff" stroke="#1a7ce0" stroke-width="0.5"/>
<rect x="78.8" y="7.2" width="7.3" height="7.4" fill="#1e90ff" stroke="#1a7ce0" stroke-width="0.5"/>
<path d="M80.4,9.6 L84.6,8.6 M80.4,10.6 L84.6,9.6" stroke="#e8f4ff" stroke-width="0.8" fill="none"/><line x1="78.9" y1="7.4" x2="78.9" y2="14" stroke="#d8ecff" stroke-width="0.6"/>
<path d="M76,19.3 C72.4,19.3 72.4,14.6 76,14.6 C76.2,13.4 78,13 78.8,14 C79.6,11.4 83.8,11.4 84.4,14.2 C85.4,13.2 87.2,13.8 87.2,15.2 C89.8,15.6 89.6,19.3 86.6,19.3 Z" fill="url(#cloud)" stroke="#4668b0" stroke-width="0.9"/>
<path d="M109,12 L112.6,5 A7.9,7.9 0 0 1 109.4,19.8 Z" fill="#78b878" opacity="0.45"/>
<g fill="none"><circle cx="109" cy="12" r="7.2" stroke="#a0b8e8" stroke-width="1.3"/><circle cx="109" cy="12" r="4.3" stroke="#7ea0e2" stroke-width="1.3"/><path d="M111.6,5.3 A7.2,7.2 0 0 1 110.4,19" stroke="#8cc08c" stroke-width="1.3"/><path d="M110.6,8 A4.3,4.3 0 0 1 110.4,16" stroke="#8cc08c" stroke-width="1.2"/></g>
<circle cx="108.9" cy="11.8" r="1.7" fill="#2460d4"/><rect x="108.8" y="12.2" width="1.5" height="7.5" fill="#18a828"/>
<polygon points="128.4,10.6 143.6,10.6 137.2,19.6 135.8,19.6" fill="#fbe060" stroke="#c89820" stroke-width="0.6" stroke-linejoin="round"/>
<ellipse cx="135.8" cy="8.6" rx="7.6" ry="2.4" fill="#58a8e0" stroke="#2880b8" stroke-width="0.7"/><ellipse cx="135.8" cy="6.6" rx="3.4" ry="2.5" fill="#80c0ec" stroke="#2880b8" stroke-width="0.6"/>
<circle cx="140.4" cy="15.7" r="4.1" fill="#e01808"/><rect x="138.9" y="14.2" width="3.1" height="3.1" fill="#fff"/>
<text x="149.6" y="15.2" font-size="11.6" fill="#000" stroke="#000" stroke-width="0.08">自动交易</text>
<rect x="204" y="0" width="1" height="24" fill="#a0a0a0" shape-rendering="crispEdges"/><rect x="205" y="0" width="1" height="24" fill="#ffffff" shape-rendering="crispEdges"/>
<g shape-rendering="crispEdges">
<rect x="208" y="2" width="3" height="1" fill="#9a9a9a"/>
<rect x="208" y="4" width="3" height="1" fill="#9a9a9a"/>
<rect x="208" y="6" width="3" height="1" fill="#9a9a9a"/>
<rect x="208" y="8" width="3" height="1" fill="#9a9a9a"/>
<rect x="208" y="10" width="3" height="1" fill="#9a9a9a"/>
<rect x="208" y="12" width="3" height="1" fill="#9a9a9a"/>
<rect x="208" y="14" width="3" height="1" fill="#9a9a9a"/>
<rect x="208" y="16" width="3" height="1" fill="#9a9a9a"/>
<rect x="208" y="18" width="3" height="1" fill="#9a9a9a"/>
<rect x="208" y="20" width="3" height="1" fill="#9a9a9a"/>
</g>
<g shape-rendering="crispEdges" fill="#555"><rect x="222" y="6" width="1" height="14"/><rect x="220" y="17" width="14" height="1"/><rect x="221" y="7" width="3" height="1"/><rect x="232" y="16" width="1" height="3"/></g>
<g shape-rendering="crispEdges" fill="#088a08"><rect x="228" y="7" width="1" height="9"/><rect x="229" y="8" width="2" height="1"/><rect x="226" y="14" width="2" height="1"/></g>
<g shape-rendering="crispEdges"><rect x="242" y="0" width="25" height="22" fill="url(#chk)"/><rect x="242" y="0" width="25" height="1" fill="#999999"/><rect x="242" y="0" width="1" height="22" fill="#999999"/><rect x="267" y="0" width="1" height="23" fill="#ffffff"/><rect x="242" y="22" width="26" height="1" fill="#ffffff"/></g>
<g shape-rendering="crispEdges" fill="#555"><rect x="250" y="6" width="1" height="14"/><rect x="248" y="17" width="14" height="1"/><rect x="249" y="7" width="3" height="1"/><rect x="260" y="16" width="1" height="3"/></g>
<g shape-rendering="crispEdges"><rect x="256" y="4" width="1" height="12" fill="#088a08"/><rect x="254" y="6" width="5" height="8" fill="#088a08"/><rect x="255" y="7" width="3" height="6" fill="#50e068"/></g>
<g shape-rendering="crispEdges" fill="#555"><rect x="278" y="6" width="1" height="14"/><rect x="276" y="17" width="14" height="1"/><rect x="277" y="7" width="3" height="1"/><rect x="288" y="16" width="1" height="3"/></g>
<path d="M277.5,15 C280,10 283,7.5 285,9 C286.5,10 287.5,12 289,13" fill="none" stroke="#18942c" stroke-width="1.2"/>
<rect x="299" y="1" width="1" height="21" fill="#a0a0a0" shape-rendering="crispEdges"/><rect x="300" y="1" width="1" height="21" fill="#fafafa" shape-rendering="crispEdges"/>
<line x1="317.5" y1="13.8" x2="322.6" y2="18.8" stroke="#c8981c" stroke-width="2.6" stroke-linecap="round"/><line x1="317.8" y1="13.6" x2="322.2" y2="18" stroke="#f4d870" stroke-width="0.9"/>
<circle cx="314" cy="10" r="5.4" fill="url(#lens)" stroke="#3c7cc8" stroke-width="1.1"/>
<rect x="311.2" y="9.2" width="5.6" height="1.7" fill="#2868c0"/>
<rect x="313.15" y="7.2" width="1.7" height="5.6" fill="#2868c0"/>
<line x1="345.5" y1="13.8" x2="350.6" y2="18.8" stroke="#c8981c" stroke-width="2.6" stroke-linecap="round"/><line x1="345.8" y1="13.6" x2="350.2" y2="18" stroke="#f4d870" stroke-width="0.9"/>
<circle cx="342" cy="10" r="5.4" fill="url(#lens)" stroke="#3c7cc8" stroke-width="1.1"/>
<rect x="339.2" y="9.2" width="5.6" height="1.7" fill="#2868c0"/>
<rect x="363.8" y="4.2" width="7.8" height="7.4" fill="#46a428"/><rect x="365.0" y="7.4" width="5.4" height="3.6" fill="#f4f8ff"/><rect x="365.8" y="8.600000000000001" width="3.8" height="0.9" fill="#46a428" opacity="0.7"/><rect x="364.8" y="5.4" width="1" height="1" fill="#e8f0ff" opacity="0.8"/>
<rect x="372.2" y="4.2" width="7.8" height="7.4" fill="#1858d0"/><rect x="373.4" y="7.4" width="5.4" height="3.6" fill="#f4f8ff"/><rect x="374.2" y="8.600000000000001" width="3.8" height="0.9" fill="#1858d0" opacity="0.7"/><rect x="373.2" y="5.4" width="1" height="1" fill="#e8f0ff" opacity="0.8"/>
<rect x="363.8" y="12.3" width="7.8" height="7.4" fill="#1858d0"/><rect x="365.0" y="15.5" width="5.4" height="3.6" fill="#f4f8ff"/><rect x="365.8" y="16.700000000000003" width="3.8" height="0.9" fill="#1858d0" opacity="0.7"/><rect x="364.8" y="13.5" width="1" height="1" fill="#e8f0ff" opacity="0.8"/>
<rect x="372.2" y="12.3" width="7.8" height="7.4" fill="#46a428"/><rect x="373.4" y="15.5" width="5.4" height="3.6" fill="#f4f8ff"/><rect x="374.2" y="16.700000000000003" width="3.8" height="0.9" fill="#46a428" opacity="0.7"/><rect x="373.2" y="13.5" width="1" height="1" fill="#e8f0ff" opacity="0.8"/>
<rect x="389" y="1" width="1" height="21" fill="#a0a0a0" shape-rendering="crispEdges"/><rect x="390" y="1" width="1" height="21" fill="#fafafa" shape-rendering="crispEdges"/>
<g shape-rendering="crispEdges"><rect x="394" y="0" width="25" height="22" fill="url(#chk)"/><rect x="394" y="0" width="25" height="1" fill="#999999"/><rect x="394" y="0" width="1" height="22" fill="#999999"/><rect x="419" y="0" width="1" height="23" fill="#ffffff"/><rect x="394" y="22" width="26" height="1" fill="#ffffff"/></g>
<g shape-rendering="crispEdges" fill="#555"><rect x="402" y="6" width="1" height="14"/><rect x="400" y="17" width="14" height="1"/><rect x="401" y="7" width="3" height="1"/><rect x="412" y="16" width="1" height="3"/></g>
<polygon points="407.3,8.3 407.3,14.8 411,11.5" fill="#80f090" stroke="#088a08" stroke-width="1"/>
<g shape-rendering="crispEdges"><rect x="422" y="0" width="25" height="22" fill="url(#chk)"/><rect x="422" y="0" width="25" height="1" fill="#999999"/><rect x="422" y="0" width="1" height="22" fill="#999999"/><rect x="447" y="0" width="1" height="23" fill="#ffffff"/><rect x="422" y="22" width="26" height="1" fill="#ffffff"/></g>
<g shape-rendering="crispEdges" fill="#555"><rect x="430" y="6" width="1" height="14"/><rect x="428" y="17" width="14" height="1"/><rect x="429" y="7" width="3" height="1"/><rect x="440" y="16" width="1" height="3"/></g>
<rect x="436" y="6" width="1" height="10" fill="#1a6a9a" shape-rendering="crispEdges"/><path d="M442,11.5 H437.6" fill="none" stroke="#a83808" stroke-width="1"/><polygon points="437.2,11.5 440,9.2 440,13.8" fill="#e85810"/>
<rect x="451" y="1" width="1" height="21" fill="#a0a0a0" shape-rendering="crispEdges"/><rect x="452" y="1" width="1" height="21" fill="#fafafa" shape-rendering="crispEdges"/>
<path d="M461.5,4.8 H469.6 L472.6,7.8 V17.2 H461.5 Z" fill="#fafafa" stroke="#8c8c8c" stroke-width="0.8"/><path d="M469.6,4.8 V7.8 H472.6" fill="#e4e4e4" stroke="#8c8c8c" stroke-width="0.6"/><path d="M465.4,7.6 C464,7.6 464.4,10 464.2,11 C464.4,12.4 464,14.6 465.4,14.6 M463.6,11 H465" stroke="#5a5a40" stroke-width="0.8" fill="none"/>
<path d="M469.2,10.2 H472.8 V14 H476.6 V17.6 H472.8 V21.4 H469.2 V17.6 H465.4 V14 H469.2 Z" fill="#22cc22" stroke="#0a8a0a" stroke-width="0.8" stroke-linejoin="miter"/><path d="M470,11 V14.8 H466.2" fill="none" stroke="#90f090" stroke-width="0.7"/>
<polygon points="482.6,11 488.6,11 485.6,14" fill="#000"/>
<circle cx="507.1" cy="12" r="8" fill="url(#ring)"/><circle cx="507.1" cy="12" r="5.5" fill="url(#clk)" stroke="#0c3c98" stroke-width="0.5"/><path d="M507.1,8.2 V12.4 H509.8" fill="none" stroke="#333" stroke-width="1.1"/><g fill="#8898b0"><rect x="506.7" y="7" width="0.8" height="1"/><rect x="506.7" y="16" width="0.8" height="1"/><rect x="502.2" y="11.6" width="1" height="0.8"/><rect x="511" y="11.6" width="1" height="0.8"/></g>
<polygon points="522,11 528,11 525,14" fill="#000"/>
<rect x="538.3" y="5.3" width="15.6" height="13.6" fill="#fbfdff" stroke="#3a6cc4" stroke-width="1"/><rect x="538.8" y="5.8" width="14.6" height="2" fill="#5c98e6"/><rect x="538.8" y="12.4" width="14.6" height="1" fill="#3a6cc4"/>
<path d="M540.4,11 L543,10.9 L545.4,9.6 L547.4,10.4 L549,9.4 L552,9.3" fill="none" stroke="#a02418" stroke-width="1.2"/><path d="M540.6,16.8 L543.2,16.6 L545,15.6 L546.8,16.6 L549.4,14.4 L552,16.8" fill="none" stroke="#18942c" stroke-width="1.1"/>
<polygon points="561,11 567,11 564,14" fill="#000"/>
<rect x="572" y="0" width="1" height="24" fill="#a0a0a0" shape-rendering="crispEdges"/><rect x="573" y="0" width="1" height="24" fill="#ffffff" shape-rendering="crispEdges"/>
<g shape-rendering="crispEdges">
<rect x="576" y="2" width="3" height="1" fill="#9a9a9a"/>
<rect x="576" y="4" width="3" height="1" fill="#9a9a9a"/>
<rect x="576" y="6" width="3" height="1" fill="#9a9a9a"/>
<rect x="576" y="8" width="3" height="1" fill="#9a9a9a"/>
<rect x="576" y="10" width="3" height="1" fill="#9a9a9a"/>
<rect x="576" y="12" width="3" height="1" fill="#9a9a9a"/>
<rect x="576" y="14" width="3" height="1" fill="#9a9a9a"/>
<rect x="576" y="16" width="3" height="1" fill="#9a9a9a"/>
<rect x="576" y="18" width="3" height="1" fill="#9a9a9a"/>
<rect x="576" y="20" width="3" height="1" fill="#9a9a9a"/>
</g>
<g shape-rendering="crispEdges"><rect x="582" y="0" width="25" height="22" fill="url(#chk)"/><rect x="582" y="0" width="25" height="1" fill="#999999"/><rect x="582" y="0" width="1" height="22" fill="#999999"/><rect x="607" y="0" width="1" height="23" fill="#ffffff"/><rect x="582" y="22" width="26" height="1" fill="#ffffff"/></g>
<path d="M590,4.8 V16.2 L592.4,14 L595.2,19.3 L597,18.4 L594.5,13 L598,12.6 Z" fill="#4a4a4a"/>
<g shape-rendering="crispEdges" fill="#4a4a4a"><rect x="622" y="5" width="1" height="6"/><rect x="622" y="14" width="1" height="6"/><rect x="615" y="12" width="6" height="1"/><rect x="624" y="12" width="6" height="1"/><rect x="622" y="12" width="1" height="1" fill="#8a8a7a"/></g>
<rect x="639" y="1" width="1" height="21" fill="#a0a0a0" shape-rendering="crispEdges"/><rect x="640" y="1" width="1" height="21" fill="#fafafa" shape-rendering="crispEdges"/>
<rect x="656" y="6.3" width="1.3" height="12.8" fill="#555"/>
<rect x="679" y="11.7" width="11.6" height="1.3" fill="#555"/>
<line x1="707" y1="19" x2="719.2" y2="7" stroke="#555" stroke-width="1.3"/>
<g fill="none" stroke-linecap="round"><line x1="732.8" y1="13.6" x2="740.6" y2="6.2" stroke="#666" stroke-width="0.9"/><line x1="738" y1="18.6" x2="747" y2="10.2" stroke="#666" stroke-width="0.9"/><path d="M735,18.4 L736.6,11.6 M738.4,15.6 L741.2,8.6 M742,13 L744.4,7 M745.2,11.4 L744.6,4.6" stroke="#444" stroke-width="1.05"/></g>
<text x="744" y="20.8" font-size="6.6" font-weight="bold" fill="#333">E</text>
<g stroke="#555" stroke-width="1" stroke-dasharray="1,1" shape-rendering="crispEdges"><line x1="762" y1="5.5" x2="776" y2="5.5"/><line x1="762" y1="8.5" x2="776" y2="8.5"/><line x1="762" y1="12.5" x2="776" y2="12.5"/><line x1="762" y1="16.5" x2="772" y2="16.5"/></g>
<text x="771.8" y="20.8" font-size="6.6" font-weight="bold" fill="#333">F</text>
<text x="792.3" y="16.6" font-size="11.8" font-weight="bold" fill="#555">A</text>
<rect x="819.5" y="6.5" width="11" height="12" fill="none" stroke="#555" stroke-width="1" stroke-dasharray="1,1" shape-rendering="crispEdges"/><text x="821" y="16.8" font-size="10.8" font-weight="bold" fill="#555">T</text>
<polygon points="849.4,5.8 852.8,9.3 851.2,10.7 847.6,10.7 846,9.3" fill="#4a4a4a"/><path d="M848.2,13.4 L850.5,15.6 L854.8,10.2" fill="none" stroke="#4a4a4a" stroke-width="1.3"/><polygon points="856.5,19 853.1,15.3 854.8,13.9 858.2,13.9 859.9,15.3" fill="#4a4a4a"/>
<polygon points="867,11 873,11 870,14" fill="#000"/>
<rect x="878" y="0" width="1" height="24" fill="#a0a0a0" shape-rendering="crispEdges"/><rect x="879" y="0" width="1" height="24" fill="#ffffff" shape-rendering="crispEdges"/>
<g shape-rendering="crispEdges">
<rect x="882" y="2" width="3" height="1" fill="#9a9a9a"/>
<rect x="882" y="4" width="3" height="1" fill="#9a9a9a"/>
<rect x="882" y="6" width="3" height="1" fill="#9a9a9a"/>
<rect x="882" y="8" width="3" height="1" fill="#9a9a9a"/>
<rect x="882" y="10" width="3" height="1" fill="#9a9a9a"/>
<rect x="882" y="12" width="3" height="1" fill="#9a9a9a"/>
<rect x="882" y="14" width="3" height="1" fill="#9a9a9a"/>
<rect x="882" y="16" width="3" height="1" fill="#9a9a9a"/>
<rect x="882" y="18" width="3" height="1" fill="#9a9a9a"/>
<rect x="882" y="20" width="3" height="1" fill="#9a9a9a"/>
</g>
<text class="tf" transform="translate(893.6,16) scale(0.93,0.96)">M1</text>
<text class="tf" transform="translate(921.6,16) scale(0.93,0.96)">M5</text>
<text class="tf" transform="translate(947.6,16) scale(0.93,0.96)">M15</text>
<text class="tf" transform="translate(975.4,16) scale(0.93,0.96)">M30</text>
<g shape-rendering="crispEdges"><rect x="1000" y="0" width="25" height="22" fill="url(#chk)"/><rect x="1000" y="0" width="25" height="1" fill="#999999"/><rect x="1000" y="0" width="1" height="22" fill="#999999"/><rect x="1025" y="0" width="1" height="23" fill="#ffffff"/><rect x="1000" y="22" width="26" height="1" fill="#ffffff"/></g>
<text class="tf" transform="translate(1006.6,16) scale(0.93,0.96)" style="fill:#333;stroke:#333">H1</text>
<text class="tf" transform="translate(1033.6,16) scale(0.93,0.96)">H4</text>
<text class="tf" transform="translate(1062.4,16) scale(0.93,0.96)">D1</text>
<text class="tf" transform="translate(1090,16) scale(0.93,0.96)">W1</text>
<text class="tf" transform="translate(1116.6,16) scale(0.93,0.96)">MN</text>
<rect x="1139" y="0" width="1" height="24" fill="#a0a0a0" shape-rendering="crispEdges"/><rect x="1140" y="0" width="1" height="24" fill="#ffffff" shape-rendering="crispEdges"/>
<line x1="1606.2" y1="12.8" x2="1602" y2="16.8" stroke="#2a58d0" stroke-width="2.4" stroke-linecap="round"/><circle cx="1609.5" cy="9.5" r="3.9" fill="#f6f8ff" stroke="#2a62d8" stroke-width="1.3"/>
<path d="M1626.5,14.4 C1626.5,8.5 1638,8.5 1638,14.4 C1638,18 1633,18.6 1631,18.4 L1629.4,20.4 L1629.2,18 C1627.6,17.4 1626.5,16.2 1626.5,14.4 Z" fill="#e4e6ee" stroke="#a8a8a8" stroke-width="0.8"/>
<circle cx="1640.5" cy="9.5" r="8.1" fill="url(#badge)"/><text x="1636.6" y="14" font-size="12" style="font-family:DejaVu Sans,sans-serif" fill="#fff">1</text>
</svg></body></html>
